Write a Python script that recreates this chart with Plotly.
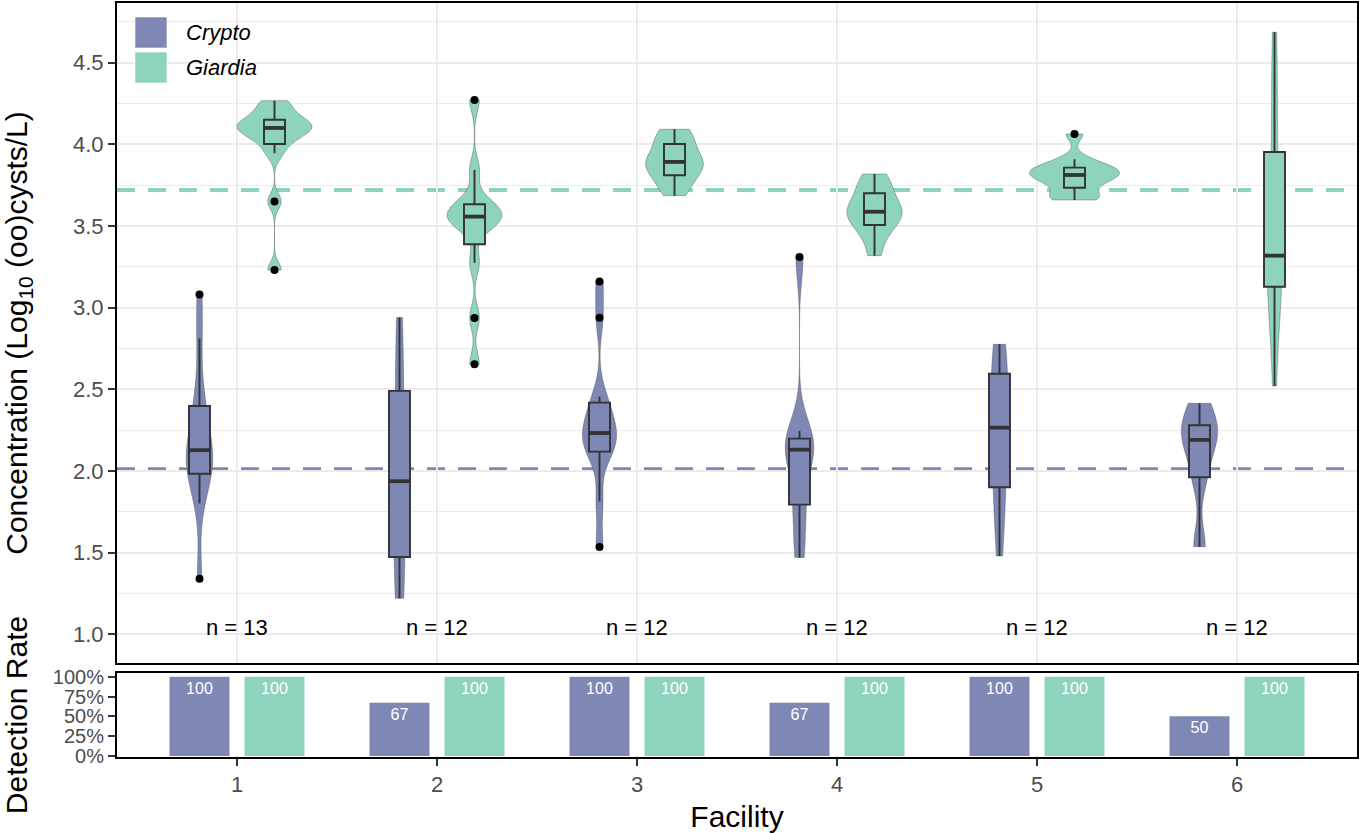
import numpy as np
import plotly.graph_objects as go
from plotly.subplots import make_subplots

# ── Data ──────────────────────────────────────────────────────────────────────
FACILITY = [1, 2, 3, 4, 5, 6]
N_SAMPLES = [13, 12, 12, 12, 12, 12]

# detected concentrations, log10 (oo)cysts/L, one list per facility
CRYPTO_F1 = [1.34, 1.80, 1.96, 1.99, 2.03, 2.07, 2.127, 2.17, 2.24, 2.37, 2.48, 2.81, 3.08]
CRYPTO_F2 = [1.22, 1.39, 1.556, 1.80, 2.074, 2.30, 2.68, 2.94]
CRYPTO_F3 = [1.534, 1.812, 2.09, 2.146, 2.18, 2.21, 2.254, 2.31, 2.381, 2.455, 2.938, 3.159]
CRYPTO_F4 = [1.47, 1.70, 1.887, 2.12, 2.14, 2.15, 2.245, 3.31]
CRYPTO_F5 = [1.479, 1.70, 1.84, 1.96, 2.10, 2.22, 2.31, 2.44, 2.55, 2.64, 2.72, 2.775]
CRYPTO_F6 = [1.536, 1.961, 2.15, 2.23, 2.28, 2.414]

GIARDIA_F1 = [3.23, 3.65, 3.945, 4.02, 4.05, 4.08, 4.10, 4.11, 4.13, 4.14, 4.18, 4.23, 4.267]
GIARDIA_F2 = [2.653, 2.937, 3.275, 3.50, 3.52, 3.545, 3.569, 3.59, 3.61, 3.656, 3.843, 4.271]
GIARDIA_F3 = [3.685, 3.74, 3.80, 3.82, 3.875, 3.885, 3.899, 3.91, 3.99, 4.014, 4.07, 4.092]
GIARDIA_F4 = [3.318, 3.43, 3.49, 3.522, 3.57, 3.578, 3.596, 3.63, 3.675, 3.725, 3.77, 3.818]
GIARDIA_F5 = [3.659, 3.675, 3.70, 3.768, 3.78, 3.80, 3.824, 3.84, 3.85, 3.864, 3.908, 4.063]
GIARDIA_F6 = [2.52, 2.90, 3.07, 3.186, 3.26, 3.30, 3.336, 3.50, 3.80, 4.106, 4.40, 4.686]

CRYPTO = [CRYPTO_F1, CRYPTO_F2, CRYPTO_F3, CRYPTO_F4, CRYPTO_F5, CRYPTO_F6]
GIARDIA = [GIARDIA_F1, GIARDIA_F2, GIARDIA_F3, GIARDIA_F4, GIARDIA_F5, GIARDIA_F6]

CRYPTO_REF = 2.01
GIARDIA_REF = 3.72

CRYPTO_RATE = [100, 67, 100, 67, 100, 50]
GIARDIA_RATE = [100, 100, 100, 100, 100, 100]

CONC_TICKS = [1.0, 1.5, 2.0, 2.5, 3.0, 3.5, 4.0, 4.5]
RATE_TICKS = [0, 25, 50, 75, 100]

# ── Style ─────────────────────────────────────────────────────────────────────
CRYPTO_COL = "#7F88B4"
GIARDIA_COL = "#8ED3BE"
BOX_LINE = "#333333"
GRID = "#EBEBEB"
TICK_TXT = "#4D4D4D"
FONT = "Liberation Sans, Arial, sans-serif"
DODGE = 0.1875
VIOLIN_W = 0.45
BOX_W = 0.105
TITLE_SIZE = 30
TICK_SIZE = 22


def nrd0(v):
    # R's default bandwidth, as used by ggplot's violins
    v = np.asarray(v, dtype=float)
    q75, q25 = np.percentile(v, [75, 25])
    lo = min(np.std(v, ddof=1), (q75 - q25) / 1.34)
    return 0.9 * lo * len(v) ** -0.2


def kde_peak(v, bw):
    # highest gaussian density inside the data range
    v = np.asarray(v, dtype=float)
    t = np.linspace(v.min(), v.max(), 512)
    z = (t[:, None] - v[None, :]) / bw
    dens = np.exp(-0.5 * z ** 2).sum(axis=1) / (len(v) * bw * np.sqrt(2 * np.pi))
    return dens.max()


fig = make_subplots(rows=2, cols=1, shared_xaxes=False)

groups = [("Crypto", CRYPTO, CRYPTO_COL, -DODGE), ("Giardia", GIARDIA, GIARDIA_COL, DODGE)]

# ggplot scale="area": all violins share one density scale
bws = {(g[0], i): nrd0(v) for g in groups for i, v in enumerate(g[1])}
peaks = {(g[0], i): kde_peak(v, bws[(g[0], i)]) for g in groups for i, v in enumerate(g[1])}
top_peak = max(peaks.values())

for name, series, col, off in groups:
    for i, (f, vals) in enumerate(zip(FACILITY, series)):
        fig.add_trace(go.Violin(
            x=[f + off] * len(vals), y=vals, name=name,
            width=VIOLIN_W * peaks[(name, i)] / top_peak,
            spanmode="hard", bandwidth=bws[(name, i)],
            fillcolor=col, line=dict(color="rgba(70,70,70,0.55)", width=0.7),
            points=False, box_visible=False, meanline_visible=False,
            showlegend=False, hoverinfo="skip",
        ), row=1, col=1)

# boxplots on top
for name, series, col, off in groups:
    for f, vals in zip(FACILITY, series):
        fig.add_trace(go.Box(
            x=[f + off] * len(vals), y=vals, name=name,
            width=BOX_W, fillcolor=col, line=dict(color=BOX_LINE, width=1.9),
            whiskerwidth=0, boxpoints="outliers", quartilemethod="linear",
            marker=dict(color="black", size=8),
            showlegend=False, hoverinfo="skip",
        ), row=1, col=1)

# thicker median bars, like ggplot's fatten
for name, series, col, off in groups:
    mx, my = [], []
    for f, vals in zip(FACILITY, series):
        m = float(np.median(vals))
        mx += [f + off - BOX_W / 2, f + off + BOX_W / 2, None]
        my += [m, m, None]
    fig.add_trace(go.Scatter(
        x=mx, y=my, mode="lines", line=dict(color=BOX_LINE, width=3.8),
        showlegend=False, hoverinfo="skip",
    ), row=1, col=1)

# detection rate bars
for name, rate, col in [("Crypto", CRYPTO_RATE, CRYPTO_COL), ("Giardia", GIARDIA_RATE, GIARDIA_COL)]:
    fig.add_trace(go.Bar(
        x=FACILITY, y=rate, name=name, offsetgroup=name,
        marker=dict(color=col, line=dict(width=0)),
        text=[str(r) for r in rate], textposition="inside",
        insidetextanchor="end", textangle=0,
        textfont=dict(color="white", size=16, family=FONT),
        showlegend=False, hoverinfo="skip",
    ), row=2, col=1)

# reference lines
for ref, col in [(CRYPTO_REF, CRYPTO_COL), (GIARDIA_REF, GIARDIA_COL)]:
    fig.add_shape(type="line", xref="x domain", yref="y", x0=0, x1=1, y0=ref, y1=ref,
                  line=dict(color=col, width=4, dash="18px,13px"), layer="below")

# sample counts
for f, n in zip(FACILITY, N_SAMPLES):
    fig.add_annotation(x=f, y=1.04, xref="x", yref="y", text=f"n = {n}", showarrow=False,
                       font=dict(size=22, color="black", family=FONT))

# legend drawn by hand (big square keys)
fig.add_shape(type="rect", xref="x domain", yref="y domain", x0=0.0065, x1=0.1234,
              y0=0.872, y1=0.996, fillcolor="white", line=dict(width=0), layer="below")
for i, (name, col) in enumerate([("Crypto", CRYPTO_COL), ("Giardia", GIARDIA_COL)]):
    top = 0.9788 - i * 0.053
    fig.add_shape(type="rect", xref="x domain", yref="y domain", x0=0.0145, x1=0.0403,
                  y0=top - 0.047, y1=top, fillcolor=col,
                  line=dict(color="rgba(255,255,255,0.6)", width=1), layer="above")
    fig.add_annotation(xref="x domain", yref="y domain", x=0.054, y=top - 0.0235,
                       xanchor="left", yanchor="middle", showarrow=False,
                       text=f"<i>{name}</i>", font=dict(size=22, color="black", family=FONT))

axis_common = dict(showline=True, mirror=True, linecolor="black", linewidth=2,
                   zeroline=False, automargin=False)

fig.update_xaxes(range=[0.4, 6.6], tickvals=FACILITY, showticklabels=False, ticks="",
                 showgrid=True, gridcolor=GRID, gridwidth=1.8, **axis_common, row=1, col=1)
fig.update_xaxes(range=[0.4, 6.6], tickvals=FACILITY, ticks="outside", ticklen=7,
                 tickwidth=2, tickcolor=BOX_LINE, showgrid=False,
                 tickfont=dict(size=TICK_SIZE, color=TICK_TXT, family=FONT),
                 title=dict(text="Facility", font=dict(size=TITLE_SIZE, color="black", family=FONT),
                            standoff=10),
                 **axis_common, row=2, col=1)
fig.update_yaxes(range=[0.824, 4.865], tickvals=CONC_TICKS, tickformat=".1f",
                 ticks="outside", ticklen=7, tickwidth=2, tickcolor=BOX_LINE,
                 tickfont=dict(size=TICK_SIZE, color=TICK_TXT, family=FONT),
                 showgrid=True, gridcolor=GRID, gridwidth=1.8,
                 minor=dict(dtick=0.25, tick0=0, showgrid=True, gridcolor=GRID, gridwidth=1.4, ticks=""),
                 title=dict(text="Concentration (Log<sub>10</sub> (oo)cysts/L)",
                            font=dict(size=TITLE_SIZE, color="black", family=FONT), standoff=44),
                 domain=[0.1247, 1.0], **axis_common, row=1, col=1)
fig.update_yaxes(range=[-1.26, 104.67], tickvals=RATE_TICKS,
                 ticktext=[f"{t}%" for t in RATE_TICKS],
                 ticks="outside", ticklen=7, tickwidth=2, tickcolor=BOX_LINE,
                 tickfont=dict(size=20, color=TICK_TXT, family=FONT), showgrid=False,
                 title=dict(text="Detection Rate", font=dict(size=TITLE_SIZE, color="black", family=FONT),
                            standoff=34),
                 domain=[0.0, 0.1114], **axis_common, row=2, col=1)

fig.update_layout(
    width=1359, height=833,
    margin=dict(l=117, r=2, t=3, b=76),
    plot_bgcolor="white", paper_bgcolor="white",
    font=dict(family=FONT, color="black"),
    barmode="group", bargap=0.25, bargroupgap=0.2,
    violinmode="overlay", boxmode="overlay",
    hovermode=False, showlegend=False,
)

fig.write_html("out.html", config={"displayModeBar": False},
               post_script="document.body.style.margin='0px';")
